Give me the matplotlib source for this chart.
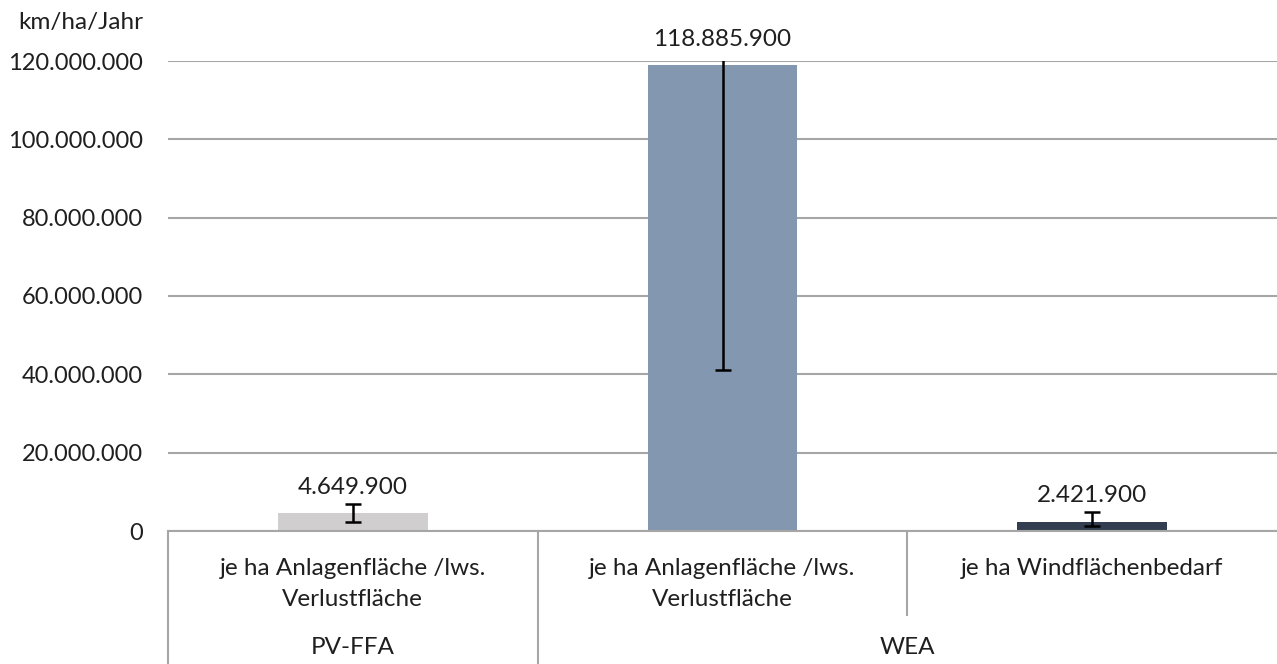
import matplotlib
matplotlib.use("Agg")
import matplotlib.pyplot as plt
from matplotlib.ticker import FuncFormatter
import matplotlib.transforms as mtransforms

plt.rcParams["font.family"] = ["Lato", "DejaVu Sans"]

# Daten
categories = ["je ha Anlagenfläche /lws.\nVerlustfläche",
              "je ha Anlagenfläche /lws.\nVerlustfläche",
              "je ha Windflächenbedarf"]
groups = ["PV-FFA", "WEA"]
group_sizes = [1, 2]
values = [4649900, 118885900, 2421900]
err_low = [2300000, 41100000, 1300000]
err_high = [6900000, 196700000, 4850000]
bar_colors = ["#d0cece", "#8497b0", "#333f50"]
y_ticks = [0, 20000000, 40000000, 60000000, 80000000, 100000000, 120000000]
y_max = 120000000

TXT = "#1f1f1f"


def de_format(v, pos=None):
    return f"{v:,.0f}".replace(",", ".")


fig = plt.figure(figsize=(12.77, 6.64), dpi=100)
ax = fig.add_axes([168 / 1277, 1 - 531 / 664, 1 - 168 / 1277, 470 / 664])

x = list(range(len(values)))
yerr = [[v - lo for v, lo in zip(values, err_low)],
        [hi - v for v, hi in zip(values, err_high)]]
ax.bar(x, values, width=0.405, color=bar_colors, zorder=2)
ax.errorbar(x, values, yerr=yerr, fmt="none", ecolor="black", elinewidth=1.8,
            capsize=6, capthick=1.8, zorder=3)

ax.set_xlim(-0.5, 2.5)
ax.set_ylim(0, y_max)
ax.set_yticks(y_ticks)
ax.yaxis.set_major_formatter(FuncFormatter(de_format))
ax.tick_params(axis="y", length=0, labelsize=17, pad=18, colors=TXT)
ax.set_xticks([])
ax.grid(axis="y", color="#a6a6a6", linewidth=1.5, zorder=0)
for side in ["top", "right", "left"]:
    ax.spines[side].set_visible(False)
ax.spines["bottom"].set_color("#a6a6a6")
ax.spines["bottom"].set_linewidth(1.5)

# Datenbeschriftungen
for i, v in enumerate(values):
    top = max(v, err_high[i])
    offset = 4
    if top > y_max:
        top = y_max
        offset = 8
    ax.annotate(de_format(v), (i, top), xytext=(0, offset), textcoords="offset points",
                ha="center", va="bottom", fontsize=17.5, color=TXT,
                annotation_clip=False)

ax.text(-0.022, 1.06, "km/ha/Jahr", transform=ax.transAxes, ha="right",
        va="bottom", fontsize=17.5, color=TXT)

# Mehrstufige Kategorienachse
trans = mtransforms.blended_transform_factory(ax.transData, ax.transAxes)
for i, cat in enumerate(categories):
    ax.text(i, -0.058, cat, transform=trans, ha="center", va="top",
            fontsize=17.5, color=TXT, linespacing=1.6)

line_kw = dict(transform=trans, color="#a6a6a6", linewidth=1.5, clip_on=False)
start = 0
for g, n in zip(groups, group_sizes):
    ax.plot([start - 0.5, start - 0.5], [0, -0.283], **line_kw)
    ax.text(start + (n - 1) / 2, -0.247, g, transform=trans, ha="center",
            va="center", fontsize=17.5, color=TXT)
    for k in range(1, n):
        ax.plot([start + k - 0.5, start + k - 0.5], [0, -0.179], **line_kw)
    start += n

fig.savefig("out.png", dpi=100)
